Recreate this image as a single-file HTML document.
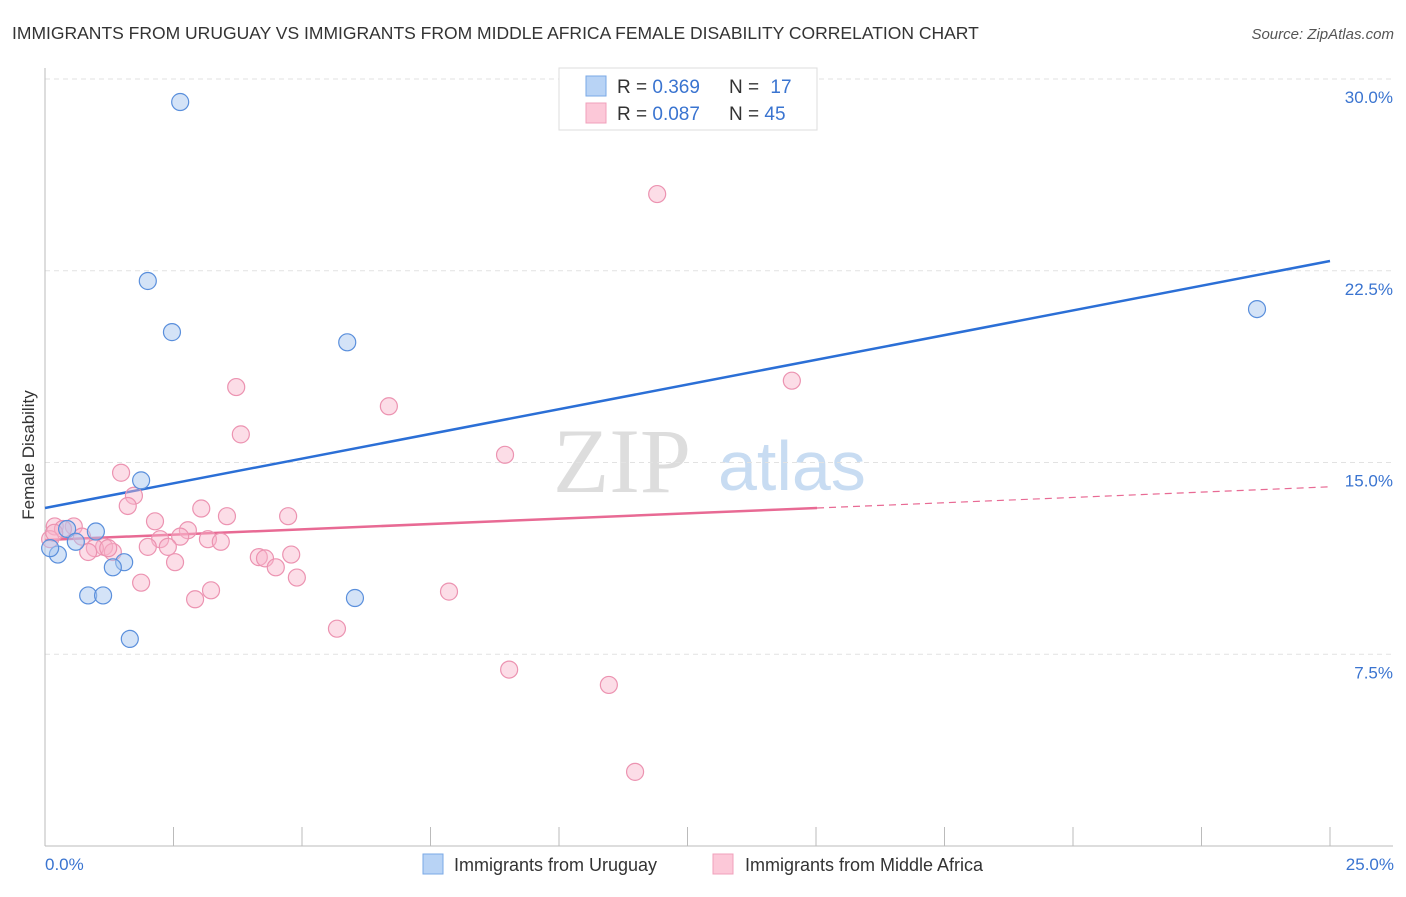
<!DOCTYPE html>
<html><head><meta charset="utf-8"><style>
body{margin:0;background:#fff;font-family:"Liberation Sans",sans-serif}
</style></head><body>
<svg width="1406" height="892" xmlns="http://www.w3.org/2000/svg" font-family="Liberation Sans, sans-serif">
<text x="12" y="39" font-size="17.5" fill="#333">IMMIGRANTS FROM URUGUAY VS IMMIGRANTS FROM MIDDLE AFRICA FEMALE DISABILITY CORRELATION CHART</text>
<text x="1394" y="39" font-size="15" fill="#555" font-style="italic" text-anchor="end">Source: ZipAtlas.com</text>
<g><text x="553" y="492" font-size="92" fill="#ddd" font-family="Liberation Serif, serif">ZIP</text><text x="718" y="490" font-size="70" fill="#c8dcf2">atlas</text></g>
<g id="grid"></g><g id="axes"></g><g id="trends"></g><g id="points"></g>
<text transform="translate(34,455) rotate(-90)" font-size="17" fill="#333" text-anchor="middle">Female Disability</text>
<text x="45" y="870" font-size="17" fill="#3a74d0">0.0%</text>
<text x="1394" y="870" font-size="17" fill="#3a74d0" text-anchor="end">25.0%</text>
<g>
<rect x="559" y="68" width="258" height="62" fill="#fff" stroke="#ddd"/>
<rect x="586" y="76" width="20" height="20" fill="#b8d3f5" stroke="#7aa8e6"/>
<rect x="586" y="103" width="20" height="20" fill="#fcc8d8" stroke="#f0a0bb"/>
<text x="617" y="93" font-size="19" fill="#333">R = <tspan fill="#3a74d0">0.369</tspan></text>
<text x="729" y="93" font-size="19" fill="#333">N = <tspan fill="#3a74d0" dx="6">17</tspan></text>
<text x="617" y="120" font-size="19" fill="#333">R = <tspan fill="#3a74d0">0.087</tspan></text>
<text x="729" y="120" font-size="19" fill="#333">N = <tspan fill="#3a74d0">45</tspan></text>
</g>
<g>
<rect x="423" y="854" width="20" height="20" fill="#b8d3f5" stroke="#7aa8e6"/>
<text x="454" y="871" font-size="18" fill="#333">Immigrants from Uruguay</text>
<rect x="713" y="854" width="20" height="20" fill="#fcc8d8" stroke="#f0a0bb"/>
<text x="745" y="871" font-size="18" fill="#333">Immigrants from Middle Africa</text>
</g>
</svg>
<script>
const blueX=[2.63,2.00,2.47,5.88,23.58,1.87,0.99,0.43,0.25,0.10,0.60,1.54,1.32,0.84,1.13,6.03,1.65];
const blueY=[29.1,22.1,20.1,19.7,21.0,14.3,12.3,12.4,11.4,11.65,11.9,11.1,10.9,9.8,9.8,9.7,8.1];
const pinkX=[11.91,3.72,6.69,14.53,3.81,8.95,1.48,1.73,1.61,3.04,3.54,4.73,2.14,0.56,0.19,0.35,2.78,2.63,0.72,2.24,3.17,3.42,2.00,1.15,0.97,2.39,1.32,0.84,0.10,4.16,4.28,4.79,2.53,4.49,4.90,1.87,3.23,2.92,7.86,5.68,9.03,10.97,11.48,0.18,1.23];
const pinkY=[25.5,17.95,17.2,18.2,16.1,15.3,14.6,13.7,13.3,13.2,12.9,12.9,12.7,12.5,12.5,12.4,12.35,12.1,12.1,12.0,12.0,11.9,11.7,11.7,11.65,11.7,11.5,11.5,12.0,11.3,11.25,11.4,11.1,10.9,10.5,10.3,10.0,9.65,9.95,8.5,6.9,6.3,2.9,12.25,11.65];
const yTicks=[7.5,15,22.5,30];
const yTickLabels=["7.5%","15.0%","22.5%","30.0%"];
const xTicks=[0,2.5,5,7.5,10,12.5,15,17.5,20,22.5,25];
const blueTrend=[13.22,22.88];
const pinkTrend=[11.97,14.05];
const pinkSolidEnd=15.02;
const NS="http://www.w3.org/2000/svg";
const X=v=>45+v/25*1285, Y=v=>846-v/30*767;
function mk(p,t,a){const e=document.createElementNS(NS,t);for(const k in a)e.setAttribute(k,a[k]);document.getElementById(p).appendChild(e);return e;}
yTicks.forEach((t,i)=>{
 const l=mk('grid','line',{x1:45,x2:1393,y1:Y(t),y2:Y(t),stroke:'#e2e2e2','stroke-dasharray':'5,4'});
 
 
 const tx=mk('grid','text',{x:1393,y:Y(t)+24,'font-size':17,fill:'#3a74d0','text-anchor':'end'});
 tx.textContent=yTickLabels[i];
 
 
});
let a=mk('axes','line',{x1:45,x2:45,y1:68,y2:846,stroke:'#bbb'});


a=mk('axes','line',{x1:45,x2:1393,y1:846,y2:846,stroke:'#bbb'});


xTicks.forEach(t=>{const k=mk('axes','line',{x1:X(t),x2:X(t),y1:827,y2:846,stroke:'#bbb'});
 
 });
function ty(tr,x){return tr[0]+(tr[1]-tr[0])*x/25;}
let t=mk('trends','line',{x1:X(0),y1:Y(ty(blueTrend,0)),x2:X(25),y2:Y(ty(blueTrend,25)),stroke:'#2b6fd6','stroke-width':2.5});


t=mk('trends','line',{x1:X(0),y1:Y(ty(pinkTrend,0)),x2:X(pinkSolidEnd),y2:Y(ty(pinkTrend,pinkSolidEnd)),stroke:'#e86a94','stroke-width':2.5});


t=mk('trends','line',{x1:X(pinkSolidEnd),y1:Y(ty(pinkTrend,pinkSolidEnd)),x2:X(25),y2:Y(ty(pinkTrend,25)),stroke:'#e86a94','stroke-width':1.2,'stroke-dasharray':'7,5'});


pinkX.forEach((x,i)=>{const c=mk('points','circle',{cx:X(x),cy:Y(pinkY[i]),r:8.5,fill:'rgba(248,180,202,0.45)',stroke:'#ec93b1','stroke-width':1.2});
 
 });
blueX.forEach((x,i)=>{const c=mk('points','circle',{cx:X(x),cy:Y(blueY[i]),r:8.5,fill:'rgba(170,200,240,0.5)',stroke:'#5a8fdc','stroke-width':1.2});
 
 });
</script>
</body></html>
